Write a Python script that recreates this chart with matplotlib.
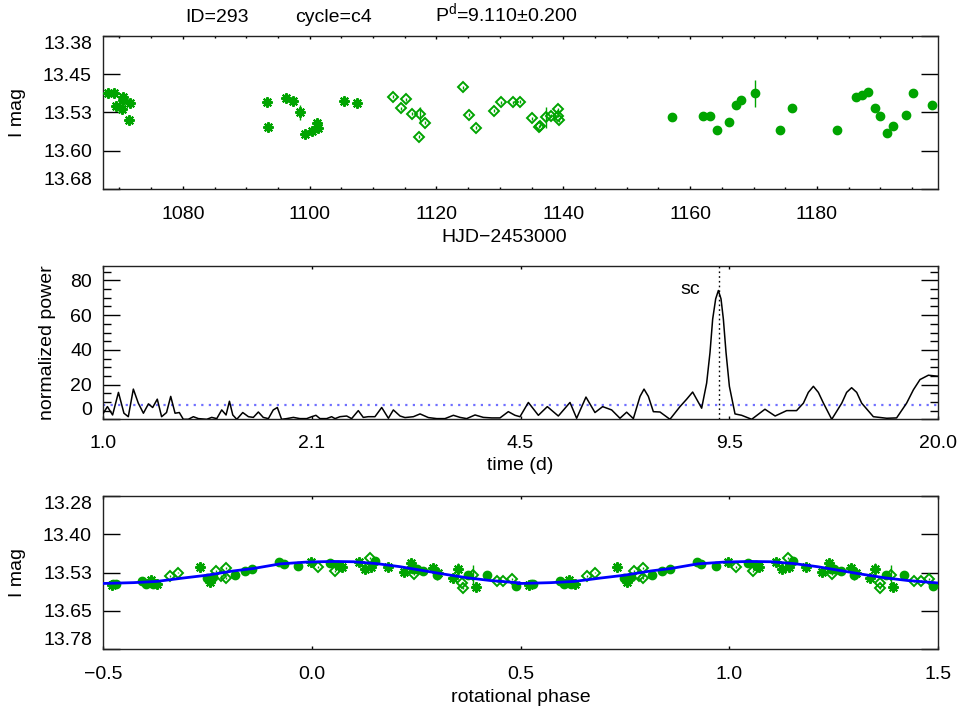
import matplotlib
matplotlib.use('Agg')
import matplotlib.pyplot as plt
import numpy as np
from matplotlib.ticker import FixedLocator, MultipleLocator, NullLocator

plt.rcParams['font.family'] = ['Liberation Sans', 'DejaVu Sans']
plt.rcParams['mathtext.fontset'] = 'custom'
plt.rcParams['mathtext.rm'] = 'Liberation Sans'

# ---------------- data: light curve (HJD-2453000, I mag, error) -------------
t_ast = [1068.2, 1069.2, 1070.5, 1070.6, 1069.5, 1070.4, 1071.6, 1071.5, 1093.3, 1093.5,
         1096.2, 1097.3, 1098.4, 1099.2, 1100.4, 1101.2, 1101.3, 1105.4, 1107.4]
m_ast = [13.493, 13.493, 13.499, 13.506, 13.518, 13.523, 13.512, 13.544, 13.510, 13.558,
         13.502, 13.508, 13.530, 13.573, 13.567, 13.551, 13.560, 13.508, 13.511]
e_ast = [0.003, 0.003, 0.003, 0.003, 0.003, 0.003, 0.003, 0.003, 0.003, 0.003,
         0.003, 0.003, 0.015, 0.003, 0.003, 0.003, 0.003, 0.003, 0.003]

t_dia = [1113.2, 1114.4, 1115.2, 1116.1, 1117.4, 1118.2, 1117.2, 1124.2, 1125.1, 1126.2, 1129.1,
         1130.2, 1132.1, 1133.2, 1135.1, 1136.2, 1136.3, 1137.2, 1138.0, 1139.1, 1139.2, 1139.3]
m_dia = [13.499, 13.522, 13.504, 13.533, 13.534, 13.550, 13.578, 13.481, 13.535, 13.560, 13.527,
         13.510, 13.510, 13.509, 13.542, 13.558, 13.556, 13.540, 13.537, 13.524, 13.537, 13.545]
e_dia = [0.003, 0.003, 0.003, 0.003, 0.015, 0.003, 0.003, 0.003, 0.003, 0.003, 0.003,
         0.003, 0.003, 0.003, 0.003, 0.003, 0.003, 0.020, 0.003, 0.003, 0.003, 0.003]

t_cir = [1157.2, 1162.0, 1163.2, 1164.2, 1166.2, 1167.2, 1168.1, 1170.2, 1174.2, 1176.1, 1183.1,
         1186.1, 1187.1, 1188.0, 1189.1, 1190.0, 1191.1, 1192.0, 1194.0, 1195.1, 1198.1]
m_cir = [13.540, 13.537, 13.537, 13.564, 13.548, 13.515, 13.506, 13.493, 13.564, 13.522, 13.564,
         13.499, 13.497, 13.491, 13.522, 13.537, 13.570, 13.557, 13.535, 13.493, 13.516]
e_cir = [0.003, 0.003, 0.003, 0.003, 0.003, 0.003, 0.003, 0.027, 0.003, 0.003, 0.003,
         0.003, 0.003, 0.003, 0.003, 0.003, 0.007, 0.003, 0.003, 0.003, 0.008]

# ---------------- data: periodogram (period in d, normalized power) ----------
period = [1.001, 1.016, 1.035, 1.057, 1.078, 1.095, 1.115, 1.135, 1.156, 1.177,
          1.195, 1.215, 1.234, 1.256, 1.275, 1.295, 1.315, 1.334, 1.358, 1.383,
          1.408, 1.451, 1.477, 1.504, 1.531, 1.555, 1.574, 1.593, 1.616, 1.651,
          1.685, 1.715, 1.746, 1.777, 1.810, 1.842, 1.869, 1.898, 1.933, 1.980,
          2.027, 2.077, 2.114, 2.147, 2.178, 2.231, 2.271, 2.299, 2.340, 2.397,
          2.440, 2.499, 2.544, 2.590, 2.653, 2.718, 2.784, 2.834, 2.903, 2.955,
          3.045, 3.119, 3.213, 3.311, 3.411, 3.515, 3.600, 3.687, 3.799, 3.914,
          4.033, 4.155, 4.281, 4.385,
          4.464, 4.600, 4.768, 4.924, 5.122, 5.341, 5.470, 5.656, 5.842, 6.005,
          6.202, 6.390, 6.545, 6.704, 6.867, 6.966, 7.075, 7.203, 7.377, 7.645,
          7.925, 8.118, 8.294, 8.566, 8.721, 8.826, 8.911, 9.008, 9.095, 9.182,
          9.260, 9.349, 9.462, 9.655, 9.888, 10.25, 10.75, 11.15, 11.62, 12.04,
          12.34, 12.56, 12.79, 13.02, 13.26, 13.66, 14.16, 14.41, 14.67, 14.94,
          15.21, 15.86, 16.64, 17.24, 17.87, 18.31, 18.75, 19.32, 20.0]
power = [3.5, 7.3, 2.5, 15.5, 3.5, 1.5, 17.4, 9.3, 3.5, 8.9,
         6.8, 11.6, 1.5, 3.9, 13.2, 3.5, 3.9, 0.0, 0.0, 1.5,
         0.4, 0.0, 1.1, 0.4, 5.4, 2.5, 10.4, 2.5, 0.0, 3.9,
         1.5, 1.1, 4.2, 1.1, 0.4, 5.4, 6.8, 0.0, 0.4, 1.1,
         0.4, 0.4, 1.5, 2.3, 0.4, 0.4, 1.5, 0.4, 1.5, 1.9,
         0.4, 5.0, 1.1, 1.5, 1.5, 6.8, 0.6, 5.4, 1.9, 1.0,
         1.5, 3.1, 1.0, 0.4, 0.4, 2.3, 1.1, 0.4, 2.5, 1.1,
         0.8, 0.8, 4.4, 2.3,
         1.5, 9.7, 2.3, 7.3, 1.9, 9.7, 0.6, 12.8, 3.9, 7.3,
         5.4, 0.6, 4.1, 0.4, 13.2, 17.4, 13.2, 4.4, 4.2, 0.0,
         7.3, 11.6, 15.7, 6.4, 20.9, 38.4, 57.7, 69.4, 74.2, 69.4,
         57.7, 38.4, 19.0, 3.1, 2.3, 0.0, 5.8, 1.9, 5.0, 5.0,
         9.3, 15.5, 19.0, 15.5, 9.3, 0.0, 9.3, 15.5, 18.2, 15.5,
         9.3, 1.5, 0.6, 0.8, 9.3, 17.0, 22.9, 25.4, 24.8]
fap_level = 8.3
best_period = 9.11

# ---------------- data: phased light curve (phase in [-0.5,0.5)) -------------
ph_ast = [-0.479, -0.385, -0.370, -0.268, -0.244, -0.002, 0.066, 0.072, 0.113, 0.127,
          0.143, 0.183, 0.222, 0.238, 0.291, 0.303, 0.338, 0.350, 0.393]
pm_ast = [13.571, 13.553, 13.568, 13.513, 13.560, 13.495, 13.509, 13.513, 13.495, 13.520,
          13.513, 13.512, 13.528, 13.500, 13.515, 13.532, 13.547, 13.518, 13.578]
pe_ast = [0.003, 0.003, 0.003, 0.003, 0.003, 0.003, 0.003, 0.003, 0.003, 0.003,
          0.003, 0.003, 0.003, 0.003, 0.003, 0.003, 0.003, 0.020, 0.003]

ph_dia = [-0.340, -0.321, -0.229, -0.217, -0.206, -0.206, 0.015, 0.056, 0.140, 0.245,
          0.360, 0.362, 0.387, 0.443, 0.459, 0.479]
pm_dia = [13.541, 13.530, 13.526, 13.542, 13.514, 13.549, 13.513, 13.524, 13.484, 13.536,
          13.565, 13.581, 13.537, 13.558, 13.557, 13.552]
pe_dia = [0.003, 0.003, 0.003, 0.003, 0.003, 0.003, 0.003, 0.003, 0.003, 0.003,
          0.003, 0.003, 0.033, 0.003, 0.003, 0.003]

ph_cir = [-0.475, -0.469, -0.406, -0.396, -0.380, -0.252, -0.245, -0.236, -0.184, -0.161,
          -0.142, -0.078, -0.067, -0.032, 0.044, 0.064, 0.152, 0.243, 0.251, 0.267,
          0.299, 0.375, 0.419, 0.489]
pm_cir = [13.569, 13.566, 13.557, 13.568, 13.568, 13.549, 13.551, 13.544, 13.538, 13.525,
          13.518, 13.496, 13.502, 13.509, 13.498, 13.506, 13.493, 13.517, 13.517, 13.525,
          13.539, 13.539, 13.539, 13.574]
pe_cir = [0.003, 0.003, 0.003, 0.003, 0.003, 0.003, 0.003, 0.003, 0.003, 0.003,
          0.003, 0.003, 0.003, 0.003, 0.003, 0.003, 0.003, 0.003, 0.003, 0.003,
          0.015, 0.003, 0.003, 0.012]

ph_fit = [-0.507, -0.427, -0.371, -0.308, -0.252, -0.188, -0.140, -0.076, -0.012, 0.052,
          0.100, 0.155, 0.211, 0.259, 0.315, 0.371, 0.427, 0.499]
mag_fit = [13.566, 13.563, 13.559, 13.548, 13.539, 13.525, 13.517, 13.502, 13.496, 13.494,
           13.495, 13.501, 13.511, 13.522, 13.535, 13.547, 13.556, 13.564]

top_yticks = [13.38, 13.455, 13.53, 13.605, 13.68]
top_ylabels = ['13.38', '13.45', '13.53', '13.60', '13.68']
mid_xlabels = ['1.0', '2.1', '4.5', '9.5', '20.0']
bot_yticks = [13.28, 13.405, 13.53, 13.655, 13.78]
bot_ylabels = ['13.28', '13.40', '13.53', '13.65', '13.78']
bot_xticks = [-0.5, 0.0, 0.5, 1.0, 1.5]

GREEN = '#00a400'
FS = 14

fig = plt.figure(figsize=(9.6, 7.13), dpi=100)
L, W = 103 / 960, 835 / 960


def ax_at(top_px, bot_px):
    return fig.add_axes([L, 1 - bot_px / 713, W, (bot_px - top_px) / 713])


def frame(ax):
    for s in ax.spines.values():
        s.set_linewidth(1.0)
        s.set_color('#222222')


def points(ax, x, y, e, kind):
    ax.errorbar(x, y, yerr=e, fmt='none', ecolor=GREEN, elinewidth=1.0, capsize=0, zorder=2)
    if kind == 'ast':
        ax.plot(x, y, ls='none', marker=(8, 2, 0), ms=7.5, mew=1.5, color=GREEN, zorder=3)
    elif kind == 'dia':
        ax.plot(x, y, ls='none', marker='D', ms=5, mfc='none', mec=GREEN, mew=1.4, zorder=3)
    else:
        ax.plot(x, y, ls='none', marker='o', ms=6.0, color=GREEN, zorder=3)


def edge_labels(labels, inverted):
    labels = list(labels)
    if inverted:
        labels[0].set_va('top')
        labels[-1].set_va('bottom')
    else:
        labels[0].set_va('bottom')


# ---------------- top panel ----------------
ax1 = ax_at(35.7, 189.0)
frame(ax1)
points(ax1, t_ast, m_ast, e_ast, 'ast')
points(ax1, t_dia, m_dia, e_dia, 'dia')
points(ax1, t_cir, m_cir, e_cir, 'cir')
ax1.set_xlim(1067.4, 1199.1)
ax1.set_ylim(13.68, 13.38)
ax1.xaxis.set_major_locator(MultipleLocator(20))
ax1.xaxis.set_minor_locator(MultipleLocator(5))
ax1.yaxis.set_major_locator(FixedLocator(top_yticks))
ax1.set_yticklabels(top_ylabels)
ax1.tick_params(axis='y', which='major', direction='in', length=12, width=1,
                left=True, right=True, labelsize=FS, pad=8)
ax1.tick_params(axis='x', which='major', direction='in', length=2.5, width=1,
                top=True, bottom=True, labelsize=FS, pad=12)
ax1.tick_params(axis='x', which='minor', direction='in', length=1.3, width=1,
                top=True, bottom=True)
ax1.set_xlabel('HJD\u22122453000', fontsize=FS)
ax1.xaxis.set_label_coords(0.48, -0.318)
ax1.xaxis.label.set_va('center')
ax1.set_ylabel('I mag', fontsize=FS)
ax1.yaxis.set_label_coords(-0.102, 0.5)
ax1.yaxis.label.set_va('center')
edge_labels(ax1.get_yticklabels(), True)

# ---------------- middle panel ----------------
ax2 = ax_at(265.7, 419.3)
frame(ax2)
ax2.plot(period, power, color='black', lw=1.1, zorder=3)
ax2.axhline(fap_level, color='#7070ff', lw=1.6, ls=(0, (1, 2.4)), zorder=2)
ax2.axvline(best_period, color='black', lw=1.0, ls=(0, (1.2, 2.2)), zorder=2)
ax2.set_xscale('log')
ax2.set_xlim(1.0, 20.0)
ax2.set_ylim(0, 88.5)
ax2.xaxis.set_major_locator(FixedLocator([20 ** (k / 4) for k in range(5)]))
ax2.xaxis.set_minor_locator(NullLocator())
ax2.set_xticklabels(mid_xlabels)
ax2.yaxis.set_major_locator(MultipleLocator(20))
ax2.yaxis.set_minor_locator(MultipleLocator(5))
ax2.set_yticks([0, 20, 40, 60, 80])
ax2.set_yticklabels(['0', '20', '40', '60', '80'])
ax2.tick_params(axis='y', which='major', direction='in', length=12, width=1,
                left=True, right=True, labelsize=FS, pad=8)
ax2.tick_params(axis='y', which='minor', direction='in', length=6, width=1,
                left=True, right=True)
ax2.tick_params(axis='x', which='major', direction='in', length=2.5, width=1,
                top=True, bottom=True, labelsize=FS, pad=11)
ax2.text(8.23, 72.3, 'sc', fontsize=FS, ha='center', va='baseline')
ax2.set_xlabel('time (d)', fontsize=FS)
ax2.xaxis.set_label_coords(0.5, -0.304)
ax2.xaxis.label.set_va('center')
ax2.set_ylabel('normalized power', fontsize=FS)
ax2.yaxis.set_label_coords(-0.066, 0.5)
ax2.yaxis.label.set_va('center')
edge_labels(ax2.get_yticklabels(), False)

# ---------------- bottom panel ----------------
ax3 = ax_at(495.7, 649.3)
frame(ax3)
for shift in (0.0, 1.0):
    points(ax3, [p + shift for p in ph_ast], pm_ast, pe_ast, 'ast')
    points(ax3, [p + shift for p in ph_dia], pm_dia, pe_dia, 'dia')
    points(ax3, [p + shift for p in ph_cir], pm_cir, pe_cir, 'cir')
fit_x = [p for p in ph_fit] + [p + 1.0 for p in ph_fit]
fit_y = list(mag_fit) + list(mag_fit)
ax3.plot(fit_x, fit_y, color='#0000ff', lw=2.0, zorder=4)
ax3.set_xlim(-0.5, 1.5)
ax3.set_ylim(13.78, 13.28)
ax3.xaxis.set_major_locator(FixedLocator(bot_xticks))
ax3.set_xticklabels(['\u22120.5', '0.0', '0.5', '1.0', '1.5'])
ax3.yaxis.set_major_locator(FixedLocator(bot_yticks))
ax3.set_yticklabels(bot_ylabels)
ax3.tick_params(axis='y', which='major', direction='in', length=12, width=1,
                left=True, right=True, labelsize=FS, pad=8)
ax3.tick_params(axis='x', which='major', direction='in', length=2.5, width=1,
                top=True, bottom=True, labelsize=FS, pad=12)
ax3.set_xlabel('rotational phase', fontsize=FS)
ax3.xaxis.set_label_coords(0.5, -0.311)
ax3.xaxis.label.set_va('center')
ax3.set_ylabel('I mag', fontsize=FS)
ax3.yaxis.set_label_coords(-0.102, 0.5)
ax3.yaxis.label.set_va('center')
edge_labels(ax3.get_yticklabels(), True)

# ---------------- header ----------------
yb = 1 - 22 / 713
fig.text(185 / 960, yb, 'ID=293', fontsize=FS, ha='left', va='baseline')
fig.text(295 / 960, yb, 'cycle=c4', fontsize=FS, ha='left', va='baseline')
fig.text(435 / 960, yb, 'P$^{\\rm d}$=9.110\u00b10.200',
         fontsize=FS, ha='left', va='baseline')

fig.savefig('out.png', dpi=100)
